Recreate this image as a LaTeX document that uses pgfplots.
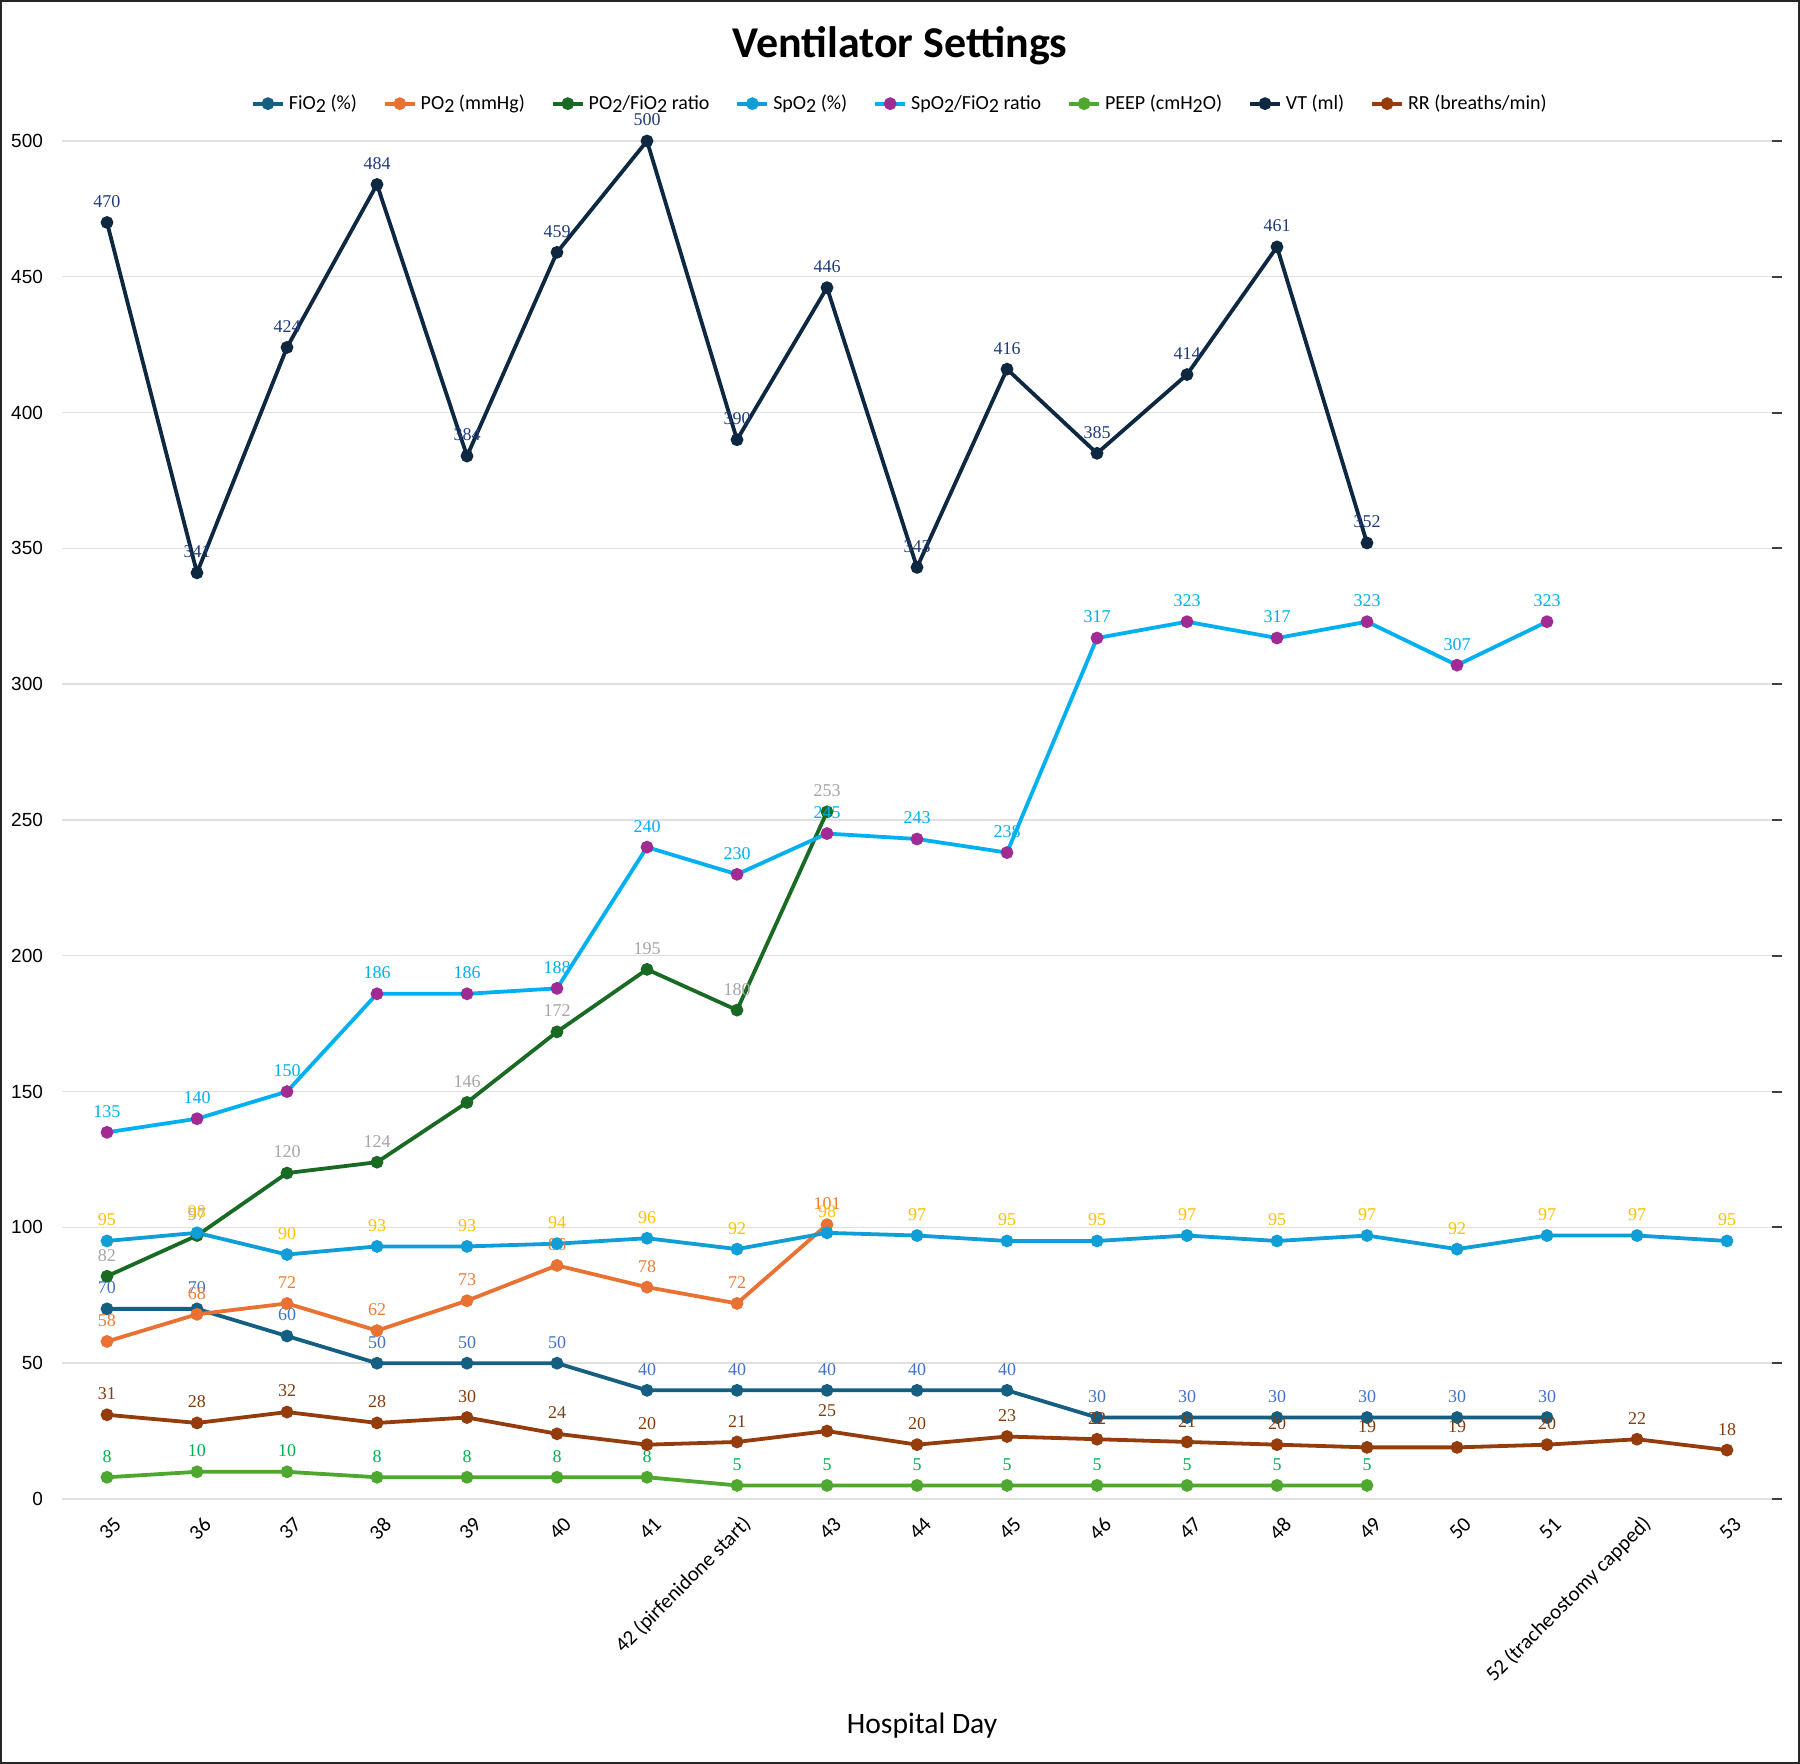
\documentclass[border=0pt]{standalone}
\usepackage{pgfplots}
\pgfplotsset{compat=1.18}
\usepackage{fontspec}
\setmainfont{Carlito}
\newfontfamily\lserif{Liberation Serif}
\newfontfamily\lsans{Liberation Sans}
\newcommand{\tw}{\raisebox{-0.35ex}{2}}
\definecolor{cFiO}{HTML}{156082}
\definecolor{lFiO}{HTML}{4472C4}
\definecolor{cPO}{HTML}{E97132}
\definecolor{lPO}{HTML}{ED7D31}
\definecolor{cPF}{HTML}{196B24}
\definecolor{lPF}{HTML}{A5A5A5}
\definecolor{cSp}{HTML}{0F9ED5}
\definecolor{lSp}{HTML}{FFC000}
\definecolor{cSF}{HTML}{00B0F0}
\definecolor{mSF}{HTML}{A02B93}
\definecolor{cPEEP}{HTML}{4EA72E}
\definecolor{lPEEP}{HTML}{00B050}
\definecolor{cVT}{HTML}{0E2841}
\definecolor{lVT}{HTML}{1F3A7A}
\definecolor{cRR}{HTML}{943C0C}
\definecolor{lRR}{HTML}{843C0C}
\begin{document}
\begin{tikzpicture}
\useasboundingbox (-31pt,-132.5pt) rectangle (869pt,749.5pt);
\begin{axis}[
  at={(0,0)}, anchor=south west,
  scale only axis, width=855pt, height=679pt,
  xmin=-0.5, xmax=18.5, ymin=0, ymax=500,
  clip=false,
  /pgf/number format/assume math mode=true,
  xtick={0,...,18},
  xticklabels={35,36,37,38,39,40,41,42 (pirfenidone start),43,44,45,46,47,48,49,50,51,52 (tracheostomy capped),53},
  xticklabel style={rotate=45, anchor=east, font=\fontsize{10.5}{12}\selectfont, xshift=3pt, yshift=-8pt},
  x tick style={draw=none},
  ytick={0,50,...,500},
  ytick pos=right, yticklabel pos=left,
  tick align=outside, major tick length=5pt,
  y tick style={draw=black!75, line width=1pt},
  yticklabel style={font=\lsans\fontsize{9.5}{11}\selectfont, xshift=-1pt},
  axis line style={draw=none},
  ymajorgrids, grid style={draw=black!12, line width=0.7pt},
  title={\bfseries Ventilator Settings},
  title style={at={(0.49,1.0611)}, anchor=center, yshift=0pt, font=\fontsize{22}{24}\selectfont},
  xlabel={Hospital Day},
  xlabel style={at={(0.503,-0.1672)}, anchor=center, font=\fontsize{14.8}{16}\selectfont},
  legend columns=8,
  legend style={at={(0.4906,1.0275)}, anchor=center, draw=none, fill=none,
    font=\fontsize{10}{12}\selectfont,
    /tikz/every even column/.append style={column sep=11pt}},
  legend cell align=left,
  legend image code/.code={\draw[mark repeat=2,mark phase=2] plot coordinates {(0pt,0pt)(7.5pt,0pt)(15pt,0pt)};},
  every axis plot/.append style={line width=1.9pt, mark=*, mark size=2.2pt},
  nodes near coords,
  every node near coord/.append style={font=\lserif\fontsize{9}{10}\selectfont, anchor=south, inner sep=1pt, yshift=5.5pt},
]
% FiO2
\addplot[color=cFiO, mark options={fill=cFiO, draw=cFiO}, every node near coord/.append style={text=lFiO}]
  coordinates {(0,70)(1,70)(2,60)(3,50)(4,50)(5,50)(6,40)(7,40)(8,40)(9,40)(10,40)(11,30)(12,30)(13,30)(14,30)(15,30)(16,30)};
\addlegendentry{FiO\tw{} (\%)}
% PO2
\addplot[color=cPO, mark options={fill=cPO, draw=cPO}, every node near coord/.append style={text=lPO}]
  coordinates {(0,58)(1,68)(2,72)(3,62)(4,73)(5,86)(6,78)(7,72)(8,101)};
\addlegendentry{PO\tw{} (mmHg)}
% PO2/FiO2
\addplot[color=cPF, mark options={fill=cPF, draw=cPF}, every node near coord/.append style={text=lPF}]
  coordinates {(0,82)(1,97)(2,120)(3,124)(4,146)(5,172)(6,195)(7,180)(8,253)};
\addlegendentry{PO\tw{}/FiO\tw{} ratio}
% SpO2
\addplot[color=cSp, mark options={fill=cSp, draw=cSp}, every node near coord/.append style={text=lSp}]
  coordinates {(0,95)(1,98)(2,90)(3,93)(4,93)(5,94)(6,96)(7,92)(8,98)(9,97)(10,95)(11,95)(12,97)(13,95)(14,97)(15,92)(16,97)(17,97)(18,95)};
\addlegendentry{SpO\tw{} (\%)}
% SpO2/FiO2
\addplot[color=cSF, mark options={fill=mSF, draw=mSF}, every node near coord/.append style={text=cSF}]
  coordinates {(0,135)(1,140)(2,150)(3,186)(4,186)(5,188)(6,240)(7,230)(8,245)(9,243)(10,238)(11,317)(12,323)(13,317)(14,323)(15,307)(16,323)};
\addlegendentry{SpO\tw{}/FiO\tw{} ratio}
% PEEP
\addplot[color=cPEEP, mark options={fill=cPEEP, draw=cPEEP}, every node near coord/.append style={text=lPEEP}]
  coordinates {(0,8)(1,10)(2,10)(3,8)(4,8)(5,8)(6,8)(7,5)(8,5)(9,5)(10,5)(11,5)(12,5)(13,5)(14,5)};
\addlegendentry{PEEP (cmH\tw{}O)}
% VT
\addplot[color=cVT, mark options={fill=cVT, draw=cVT}, every node near coord/.append style={text=lVT}]
  coordinates {(0,470)(1,341)(2,424)(3,484)(4,384)(5,459)(6,500)(7,390)(8,446)(9,343)(10,416)(11,385)(12,414)(13,461)(14,352)};
\addlegendentry{VT (ml)}
% RR
\addplot[color=cRR, mark options={fill=cRR, draw=cRR}, every node near coord/.append style={text=lRR}]
  coordinates {(0,31)(1,28)(2,32)(3,28)(4,30)(5,24)(6,20)(7,21)(8,25)(9,20)(10,23)(11,22)(12,21)(13,20)(14,19)(15,19)(16,20)(17,22)(18,18)};
\addlegendentry{RR (breaths/min)}
\end{axis}
\draw[line width=1pt, black!85] (-30.5pt,-132pt) rectangle (868.5pt,749pt);
\end{tikzpicture}
\end{document}
